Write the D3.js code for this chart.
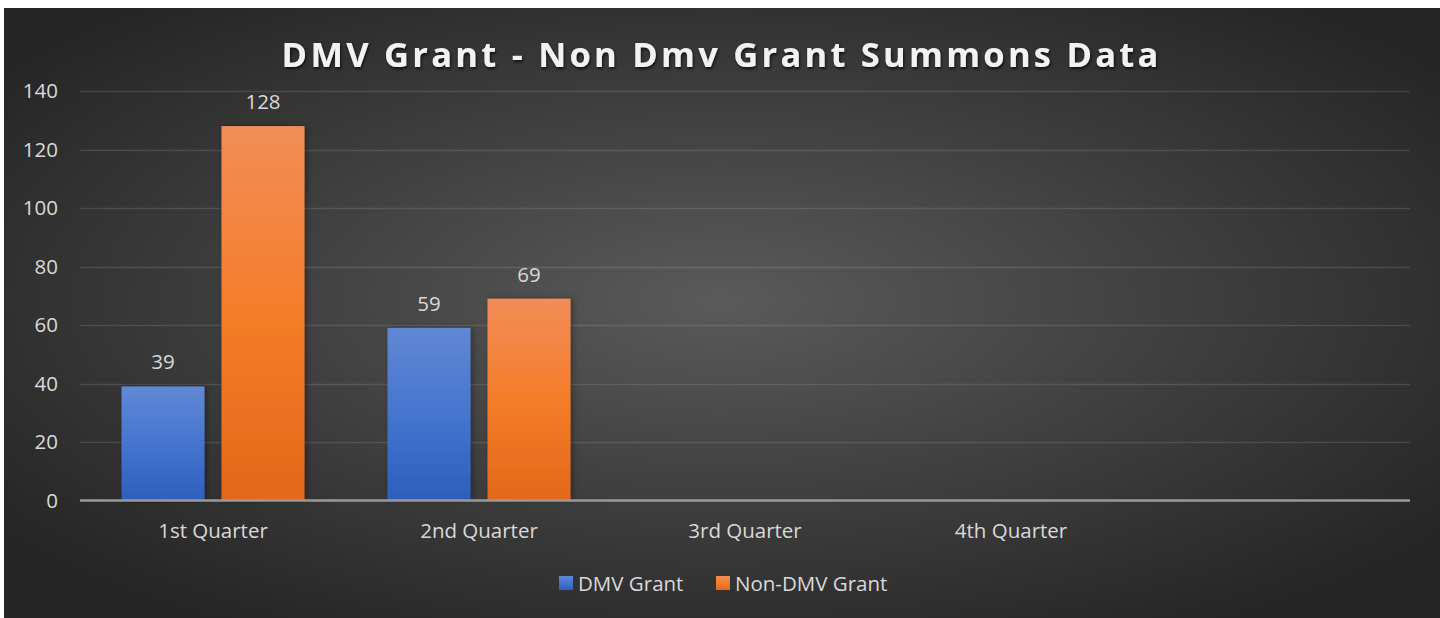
<!DOCTYPE html>
<html>
<head>
<meta charset="utf-8">
<script src="https://cdn.jsdelivr.net/npm/d3@7"></script>
<style>
  html, body { margin: 0; padding: 0; background: #ffffff; }
  svg { display: block; }
  text { font-family: "Open Sans", "Noto Sans", sans-serif; }
</style>
</head>
<body>
<svg id="chart" width="1440" height="618"></svg>
<script>
// chart values
var categories = ["1st Quarter", "2nd Quarter", "3rd Quarter", "4th Quarter", ""];
var seriesNames = ["DMV Grant", "Non-DMV Grant"];
var dmvGrant = [39, 59, null, null, null];
var nonDmvGrant = [128, 69, null, null, null];
var yTicks = [0, 20, 40, 60, 80, 100, 120, 140];
var title = "DMV Grant - Non Dmv Grant Summons Data";

var svg = d3.select("#chart");
var defs = svg.append("defs");

// background gradient, light in the middle, dark at the edges
var bg = defs.append("radialGradient").attr("id", "bg")
    .attr("cx", "50%").attr("cy", "48%").attr("r", "62%");
bg.append("stop").attr("offset", "0%").attr("stop-color", "#5a5a5a");
bg.append("stop").attr("offset", "100%").attr("stop-color", "#262626");

var blueGrad = defs.append("linearGradient").attr("id", "blueGrad")
    .attr("x1", 0).attr("y1", 0).attr("x2", 0).attr("y2", 1);
blueGrad.append("stop").attr("offset", "0%").attr("stop-color", "#6188d4");
blueGrad.append("stop").attr("offset", "50%").attr("stop-color", "#4575cf");
blueGrad.append("stop").attr("offset", "100%").attr("stop-color", "#2d5fbc");

var orangeGrad = defs.append("linearGradient").attr("id", "orangeGrad")
    .attr("x1", 0).attr("y1", 0).attr("x2", 0).attr("y2", 1);
orangeGrad.append("stop").attr("offset", "0%").attr("stop-color", "#f28d58");
orangeGrad.append("stop").attr("offset", "50%").attr("stop-color", "#f47d29");
orangeGrad.append("stop").attr("offset", "100%").attr("stop-color", "#e3681a");

var shadow = defs.append("filter").attr("id", "shadow")
    .attr("x", "-10%").attr("y", "-20%").attr("width", "130%").attr("height", "150%");
shadow.append("feDropShadow").attr("dx", 1).attr("dy", 2)
    .attr("stdDeviation", 1.5).attr("flood-color", "#000").attr("flood-opacity", 0.7);

var barShadow = defs.append("filter").attr("id", "barShadow")
    .attr("x", "-20%").attr("y", "-10%").attr("width", "150%").attr("height", "120%");
barShadow.append("feDropShadow").attr("dx", 2).attr("dy", 0)
    .attr("stdDeviation", 3).attr("flood-color", "#000").attr("flood-opacity", 0.35);

svg.append("rect").attr("x", 4).attr("y", 8).attr("width", 1436).attr("height", 610)
    .attr("fill", "url(#bg)");

// scales
var x0 = d3.scaleBand().domain(categories).range([80, 1410]).padding(0);
var x1 = d3.scaleBand().domain(seriesNames).range([41.5, 224.5]).paddingInner(0.17);
var y = d3.scaleLinear().domain([0, 140]).range([500.5, 91]);

// gridlines
svg.append("g").selectAll("line").data(yTicks.filter(function (d) { return d > 0; }))
    .enter().append("line")
    .attr("x1", 80).attr("x2", 1410)
    .attr("y1", function (d) { return Math.round(y(d)) + 0.5; })
    .attr("y2", function (d) { return Math.round(y(d)) + 0.5; })
    .attr("stroke", "#ffffff").attr("stroke-opacity", 0.12).attr("stroke-width", 1.5);

// y axis labels
var yAxis = d3.axisLeft(y).tickValues(yTicks).tickSize(0).tickPadding(0);
var yg = svg.append("g").attr("transform", "translate(58,0)").call(yAxis);
yg.select(".domain").remove();
yg.selectAll("text").attr("fill", "#d9d9d9").attr("font-size", 20.5)
    .attr("dy", "0.34em");

// bars
var rows = categories.map(function (c, i) {
    return { cat: c, values: [
        { name: seriesNames[0], value: dmvGrant[i] },
        { name: seriesNames[1], value: nonDmvGrant[i] }
    ] };
});
var fills = { "DMV Grant": "url(#blueGrad)", "Non-DMV Grant": "url(#orangeGrad)" };

var groups = svg.append("g").selectAll("g").data(rows).enter().append("g")
    .attr("transform", function (d) { return "translate(" + x0(d.cat) + ",0)"; });

groups.selectAll("rect")
    .data(function (d) { return d.values.filter(function (v) { return v.value != null; }); })
    .enter().append("rect")
    .attr("x", function (d) { return x1(d.name); })
    .attr("width", x1.bandwidth())
    .attr("y", function (d) { return y(d.value); })
    .attr("height", function (d) { return y(0) - y(d.value); })
    .attr("fill", function (d) { return fills[d.name]; })
    .attr("filter", "url(#barShadow)");

groups.selectAll("text.val")
    .data(function (d) { return d.values.filter(function (v) { return v.value != null; }); })
    .enter().append("text").attr("class", "val")
    .attr("x", function (d) { return x1(d.name) + x1.bandwidth() / 2; })
    .attr("y", function (d) { return y(d.value) - 17; })
    .attr("text-anchor", "middle").attr("fill", "#d9d9d9").attr("font-size", 20.5)
    .text(function (d) { return d.value; });

// x axis line
svg.append("line").attr("x1", 80).attr("x2", 1410)
    .attr("y1", y(0)).attr("y2", y(0))
    .attr("stroke", "#9a9a9a").attr("stroke-width", 2.5);

// category labels
var xAxis = d3.axisBottom(x0).tickSize(0).tickPadding(0);
var xg = svg.append("g").attr("transform", "translate(0,538)").call(xAxis);
xg.select(".domain").remove();
xg.selectAll("text").attr("fill", "#d9d9d9").attr("font-size", 20.5).attr("dy", 0);

// title
var t = svg.append("text").attr("x", 720).attr("y", 67)
    .attr("text-anchor", "middle").attr("fill", "#f2f2f2")
    .attr("font-size", 34.5).attr("font-weight", "bold")
    .attr("filter", "url(#shadow)")
    .text(title);
var tw = t.node().getComputedTextLength();
var ls = (880 - tw) / title.length;
t.attr("letter-spacing", ls).attr("x", 720 + ls / 2);

// legend
var legend = svg.append("g");
var legendX = [559, 716];
seriesNames.forEach(function (name, i) {
    var g = legend.append("g").attr("transform", "translate(" + legendX[i] + ",576)");
    g.append("rect").attr("width", 14).attr("height", 14).attr("fill", fills[name]);
    g.append("text").attr("x", 19).attr("y", 15).attr("fill", "#d9d9d9")
        .attr("font-size", 20.5).text(name);
});
</script>
</body>
</html>
